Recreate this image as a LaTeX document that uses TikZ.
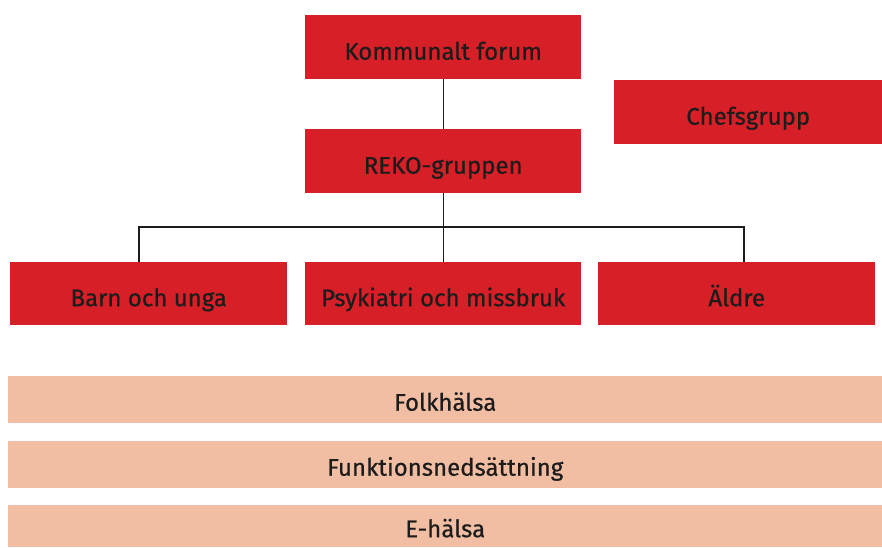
\documentclass[tikz,border=0pt]{standalone}
\usepackage{fontspec}
\setmainfont{Fira Sans}[UprightFeatures={FakeBold=0.6}]
\definecolor{orgred}{HTML}{D71F27}
\definecolor{peach}{HTML}{F2BEA3}
\definecolor{ink}{HTML}{1C1C1C}
\begin{document}
\begin{tikzpicture}[x=1pt,y=-1pt,
  redbox/.style={fill=orgred,draw=none,text=ink,inner sep=0pt,anchor=north west,
    text height=25pt,text depth=0pt,font=\fontsize{24}{28}\selectfont},
  band/.style={fill=peach,draw=none,text=ink,inner sep=0pt,anchor=north west,
    text height=22pt,text depth=0pt,font=\fontsize{24}{28}\selectfont},
  link/.style={draw=ink,line width=1.4pt}]
\useasboundingbox (0,0) rectangle (882,547);
% top of the organisation
\node[redbox,minimum width=276pt,minimum height=64pt] (forum) at (305,15) {Kommunalt forum};
\node[redbox,minimum width=276pt,minimum height=64pt] (reko) at (305,129) {REKO-gruppen};
\node[redbox,minimum width=268pt,minimum height=64pt] (chef) at (614,80) {Chefsgrupp};
% working groups
\node[redbox,minimum width=277pt,minimum height=63pt] (barn) at (10,262) {Barn och unga};
\node[redbox,minimum width=276pt,minimum height=63pt] (psyk) at (305,262) {Psykiatri och missbruk};
\node[redbox,minimum width=277pt,minimum height=63pt] (aldre) at (598,262) {Äldre};
% cross-cutting themes
\node[band,minimum width=874pt,minimum height=47pt] (folk) at (8,376) {Folkhälsa};
\node[band,minimum width=874pt,minimum height=47pt] (funk) at (8,441) {Funktionsnedsättning};
\node[band,minimum width=874pt,minimum height=42pt] (ehal) at (8,505) {E-hälsa};
% connectors
\coordinate (bus) at (443,227);
\draw[link] (forum.south) -- (reko.north);
\draw[link] (reko.south) -- (psyk.north);
\draw[link] (139,262) |- (bus) -| (744,262);
\end{tikzpicture}
\end{document}
